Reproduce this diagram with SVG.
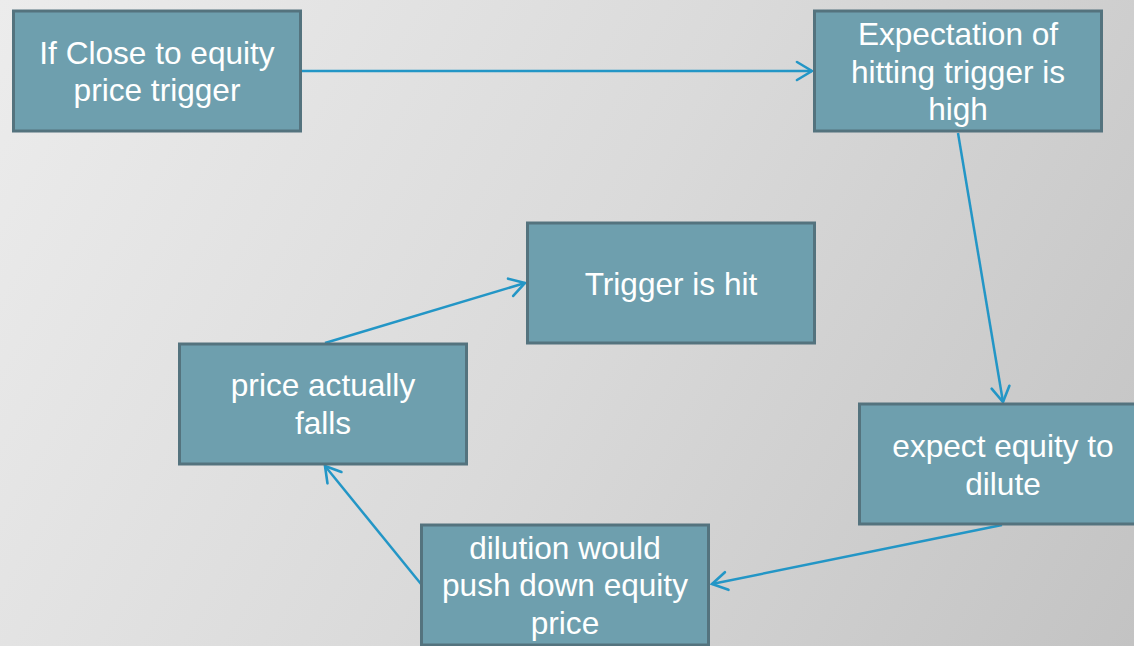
<svg xmlns="http://www.w3.org/2000/svg" width="1134" height="646" viewBox="0 0 1134 646">
  <defs>
    <linearGradient id="bg" x1="0" y1="0" x2="1134" y2="646" gradientUnits="userSpaceOnUse">
      <stop offset="0" stop-color="#ECECEC"/>
      <stop offset="0.5" stop-color="#DADADA"/>
      <stop offset="1" stop-color="#C3C3C3"/>
    </linearGradient>
    <marker id="arrow" viewBox="-20 -12 22 24" refX="0" refY="0" markerWidth="22" markerHeight="24" markerUnits="userSpaceOnUse" orient="auto">
      <path d="M-15,-9 L0,0 L-15,9" fill="none" stroke="#2396C6" stroke-width="2.6" stroke-linecap="round" stroke-linejoin="miter"/>
    </marker>
    <style>
      .box { fill: #6E9FAE; stroke: #54737E; stroke-width: 3; }
      .label { font-family: "Liberation Sans", Arial, sans-serif; font-size: 31.6px; fill: #FFFFFF; text-anchor: middle; }
      .link { fill: none; stroke: #2396C6; stroke-width: 2.5; marker-end: url(#arrow); }
    </style>
  </defs>

  <rect width="1134" height="646" fill="url(#bg)"/>

  <g id="connectors">
    <line class="link" x1="302" y1="71" x2="812" y2="71"/>
    <line class="link" x1="958" y1="133" x2="1003" y2="402"/>
    <line class="link" x1="1002" y1="525" x2="712" y2="584"/>
    <line class="link" x1="421" y1="584" x2="325" y2="466"/>
    <line class="link" x1="325" y1="343" x2="525" y2="283"/>
  </g>

  <g id="node-close-to-trigger">
    <rect class="box" x="13.5" y="11" width="287" height="120"/>
    <text class="label" x="157" y="63.5">If Close to equity</text>
    <text class="label" x="157" y="101">price trigger</text>
  </g>

  <g id="node-expectation">
    <rect class="box" x="814.5" y="11" width="287" height="120"/>
    <text class="label" x="958" y="45">Expectation of</text>
    <text class="label" x="958" y="82.5">hitting trigger is</text>
    <text class="label" x="958" y="120">high</text>
  </g>

  <g id="node-trigger-hit">
    <rect class="box" x="527.5" y="223" width="287" height="120"/>
    <text class="label" x="671" y="295">Trigger is hit</text>
  </g>

  <g id="node-price-falls">
    <rect class="box" x="179.5" y="344" width="287" height="120"/>
    <text class="label" x="323" y="396">price actually</text>
    <text class="label" x="323" y="433.5">falls</text>
  </g>

  <g id="node-expect-dilute">
    <rect class="box" x="859.5" y="404" width="287" height="120"/>
    <text class="label" x="1003" y="457">expect equity to</text>
    <text class="label" x="1003" y="494.5">dilute</text>
  </g>

  <g id="node-dilution-push">
    <rect class="box" x="421.5" y="525" width="287" height="120"/>
    <text class="label" x="565" y="558.5">dilution would</text>
    <text class="label" x="565" y="596">push down equity</text>
    <text class="label" x="565" y="633.5">price</text>
  </g>
</svg>
